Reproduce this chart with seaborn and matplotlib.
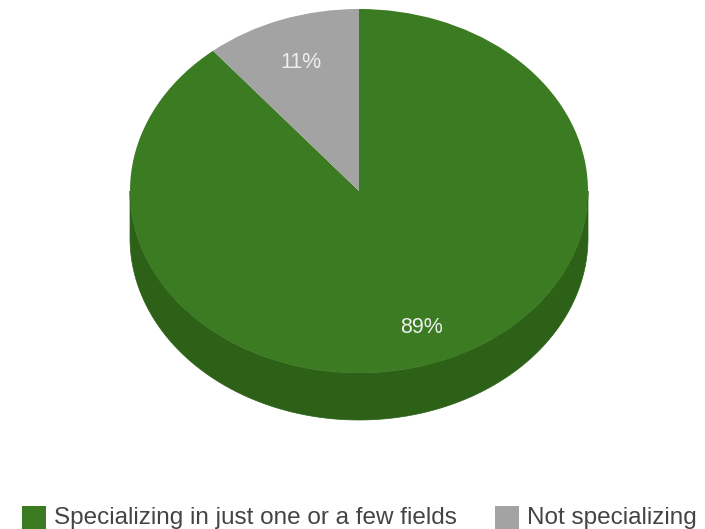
import numpy as np
import matplotlib
matplotlib.use("Agg")
import matplotlib.pyplot as plt
import matplotlib.patches as mpatches
from matplotlib.transforms import Affine2D
import seaborn as sns

categories = ["Specializing in just one or a few fields", "Not specializing"]
values = [89, 11]
top_colors = ["#3b7b21", "#a3a3a3"]
side_colors = ["#2c6117", "#7f7f7f"]

sns.set_theme(style="white")
plt.rcParams["font.family"] = ["Liberation Sans", "DejaVu Sans"]

W, H = 705, 529
fig = plt.figure(figsize=(W / 100, H / 100), dpi=100)
ax = fig.add_axes([0, 0, 1, 1])

cx, cy = 359, H - 191
rx, ry = 229, 182
depth = 47

# side walls (front half only), computed from the wedge angles
total = sum(values)
start = 90.0
for v, sc in zip(values, side_colors):
    a2 = start
    a1 = start - 360.0 * v / total
    start = a1
    for shift in (-360, 0, 360):
        lo = max(a1 + shift, -180)
        hi = min(a2 + shift, 0)
        if hi > lo:
            t = np.radians(np.linspace(lo, hi, 200))
            xs = cx + rx * np.cos(t)
            ys = cy + ry * np.sin(t)
            poly = np.concatenate([
                np.column_stack([xs, ys]),
                np.column_stack([xs[::-1], ys[::-1] - depth]),
            ])
            ax.add_patch(mpatches.Polygon(poly, closed=True, facecolor=sc,
                                          edgecolor=sc, lw=0.5))

wedges, texts, autotexts = ax.pie(
    values, colors=top_colors, startangle=90, counterclock=False,
    autopct="%d%%", pctdistance=0.77, radius=1, center=(0, 0),
    wedgeprops=dict(linewidth=0), textprops=dict(color="#eeeeee", fontsize=15.5),
    frame=True,
)
tr = Affine2D().scale(rx, ry).translate(cx, cy) + ax.transData
for w in wedges:
    w.set_transform(tr)
# place labels along each wedge's mid-angle
label_r = [0.80, 0.75]
start = 90.0
for t, v, r in zip(autotexts, values, label_r):
    mid = np.radians(start - 180.0 * v / total)
    start -= 360.0 * v / total
    t.set_transform(tr)
    t.set_position((r * np.cos(mid), r * np.sin(mid)))

ax.set_xlim(0, W)
ax.set_ylim(0, H)
ax.set_aspect("auto")
ax.axis("off")

# legend (bottom, partly cut off as in the original)
sq = 24
leg_x = [22, 495]
for x0, c, lab in zip(leg_x, top_colors, categories):
    ax.add_patch(mpatches.Rectangle((x0, H - 506 - sq), sq, sq,
                                    facecolor=c, edgecolor="none",
                                    clip_on=False))
    ax.text(x0 + sq + 8, H - 524, lab, fontsize=17.5, color="#444444",
            ha="left", va="baseline")

fig.savefig("out.png", dpi=100)
